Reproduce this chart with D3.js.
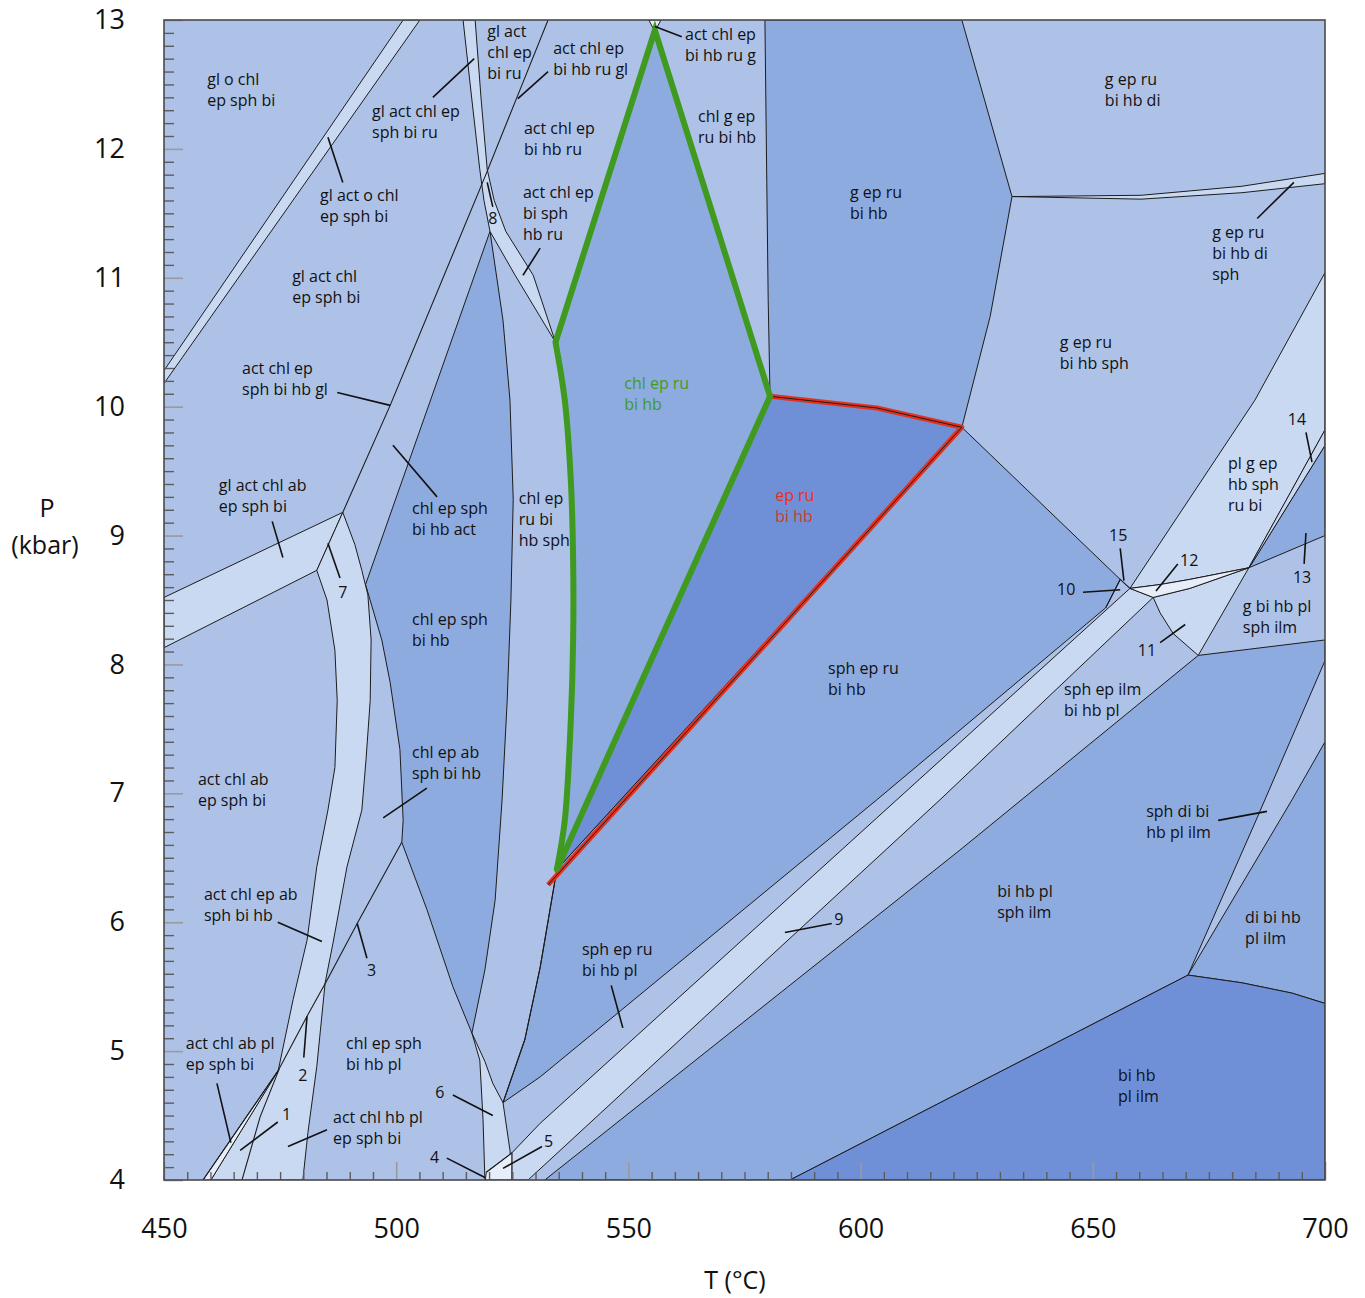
<!DOCTYPE html>
<html>
<head>
<meta charset="utf-8">
<script src="https://cdn.jsdelivr.net/npm/d3@7"></script>
<style>
  body { margin: 0; background: #fff; }
  svg text { font-family: "Open Sans", "Noto Sans", sans-serif; }
</style>
</head>
<body>
<svg id="chart" width="1365" height="1298"></svg>
<script>
// axis ranges and tick values
const tDomain = [450, 700];
const pDomain = [4, 13];
const tMajor = [450, 500, 550, 600, 650, 700];
const pMajor = [4, 5, 6, 7, 8, 9, 10, 11, 12, 13];

// field polygons, vertices as [T (°C), P (kbar)]
const bandGlActOChl = [[450,10.28],[501.5,13],[505.1,13],[450,10.18]];
const bandGlActChlEpSphBiRu = [[514.4,13],[516.3,12.38],[518.0,11.84],[518.9,11.60],[520.2,11.36],[525.6,11.02],[534.3,10.5],
  [529.5,11.02],[523.6,11.36],[521.1,11.60],[519.6,11.84],[518.3,12.38],[517.0,13]];
const bandGlActChlAb = [[450,8.52],[488.5,9.18],[482.9,8.73],[450,8.13]];
const band7 = [[488.5,9.18],[491.1,8.93],[492.6,8.73],[493.9,8.54],[494.6,8.19],[494.4,7.72],[493.5,7.26],[492.6,6.87],
  [489.4,6.43],[486.4,5.84],[484.7,5.53],[482.9,4.88],[481.0,4.37],[479.9,4],[460.1,4],[474.6,4.85],[477.8,5.40],
  [480.8,5.86],[482.9,6.43],[485.3,6.87],[486.8,7.20],[487.3,7.72],[486.8,8.11],[485.1,8.50],[482.9,8.73]];
const strip1 = [[474.6,4.85],[458.4,4],[460.1,4]];
const fieldChlEpSphBiHb = [[520.2,11.36],[493.4,8.62],[496.9,8.19],[498.7,7.86],[500.8,7.34],[501.5,6.79],[501.2,6.62],
  [506.6,6.10],[512.2,5.50],[516.3,5.14],[519.1,5.63],[521.3,6.17],[522.8,6.95],[523.9,7.72],[524.7,8.50],[525.2,9.28],
  [524.5,10.05],[523.0,10.67]];
const band6 = [[516.3,5.14],[518.0,4.93],[518.7,4.47],[519.1,4],[524.9,4],[524.5,4.23],[523.0,4.60],[520.8,4.75],[519.1,4.92]];
const field5 = [[519.4,4.06],[524.9,4.21],[524.9,4],[519.2,4]];
const greenStraight = [[534.3,10.5],[555.7,12.92],[580.5,10.08],[534.6,6.41]];
const greenCurve = [[534.6,6.41],[536.3,6.79],[537.6,7.57],[538.1,8.19],[538.1,8.81],[537.6,9.43],[536.3,10.05],[534.3,10.5]];
const fieldChlEpRuBiHb = greenStraight.concat(greenCurve.slice(1, -1));
const fieldEpRuBiHb = [[580.5,10.08],[603.5,9.99],[621.8,9.84],[534.6,6.41]];
const fieldGEpRuBiHb = [[579.4,13],[621.8,13],[632.6,11.63],[627.9,10.70],[621.8,9.84],[603.5,9.99],
  [580.5,10.08],[580.1,10.83],[579.8,11.74]];
const fieldSphEpRuBiHb = [[534.6,6.41],[621.8,9.84],[655.9,8.66],[652.8,8.44],[603.5,6.95],[531.0,4.80],[523.0,4.60],
  [527.7,5.09],[531.0,5.65]];
const band9 = [[524.9,4.21],[531.0,4.44],[607.8,6.95],[658.0,8.59],[663.0,8.52],[617.1,6.95],[528.4,4],[524.9,4]];
const fieldBiHbPlSphIlm = [[532.0,4],[621.4,6.56],[672.7,8.07],[700,8.19],[700,8.03],[684.9,6.77],[670.5,5.59],[584.8,4]];
const fieldDiBiHbPlIlm = [[670.5,5.59],[692.9,6.95],[700,7.40],[700,5.37],[692.9,5.45],[682.1,5.53]];
const fieldBiHbPlIlm = [[584.8,4],[670.5,5.59],[682.1,5.53],[692.9,5.45],[700,5.37],[700,4]];
const bandPlGEp = [[658.0,8.59],[684.9,10.05],[700,11.04],[700,9.82],[691.6,9.27],[683.6,8.75],[670.9,8.66],[664.5,8.62]];
const crescent12 = [[658.0,8.59],[664.5,8.62],[670.9,8.66],[683.6,8.75],[670.9,8.59],[663.0,8.52]];
const field11 = [[663.0,8.52],[670.9,8.59],[683.6,8.75],[672.7,8.07],[667.3,8.24],[664.5,8.40]];
const sliver14 = [[683.6,8.75],[700,9.82],[700,9.70],[684.2,8.78]];
const field13 = [[684.2,8.78],[700,9.70],[700,9.00],[683.6,8.75]];
const sliverDi = [[632.6,11.63],[660.4,11.64],[682.1,11.71],[700,11.81],[700,11.73],[682.1,11.66],[660.4,11.61]];
const apexTri = [[554.4,13],[557.0,13],[555.7,12.91]];

// single reaction lines
const lineL1 = [[532.7,13],[526.0,12.40],[519.3,11.80],[498.7,10.01],[488.5,9.18]];
const line3 = [[501.2,6.62],[491.6,5.99],[485.1,5.55],[480.8,5.27],[474.6,4.85],[458.4,4]];
const band7Lower = [[474.8,4.86],[470.7,4.49],[466.8,4]];
const greenTail = [[534.6,6.41],[531.0,5.65],[527.7,5.09],[523.0,4.60]];
const d2Cross = [[519.4,4.06],[524.9,4.21]];
const field10 = [[652.8,8.44],[655.9,8.66],[658.0,8.59]];
const redEdge = [[580.5,10.08],[603.5,9.99],[621.8,9.84],[532.7,6.29]];

const fields = [
  { pts: fieldChlEpSphBiHb, tone: 'medium' },
  { pts: fieldChlEpRuBiHb, tone: 'medium' },
  { pts: fieldGEpRuBiHb, tone: 'medium' },
  { pts: fieldSphEpRuBiHb, tone: 'medium' },
  { pts: fieldBiHbPlSphIlm, tone: 'medium' },
  { pts: fieldDiBiHbPlIlm, tone: 'medium' },
  { pts: field13, tone: 'medium' },
  { pts: fieldEpRuBiHb, tone: 'dark' },
  { pts: fieldBiHbPlIlm, tone: 'dark' },
  { pts: bandGlActOChl, tone: 'lightest' },
  { pts: bandGlActChlEpSphBiRu, tone: 'lightest' },
  { pts: bandGlActChlAb, tone: 'lightest' },
  { pts: band7, tone: 'lightest' },
  { pts: band6, tone: 'lightest' },
  { pts: band9, tone: 'lightest' },
  { pts: bandPlGEp, tone: 'lightest' },
  { pts: field11, tone: 'lightest' },
  { pts: sliver14, tone: 'lightest' },
  { pts: sliverDi, tone: 'lightest' },
  { pts: strip1, tone: 'white' },
  { pts: field5, tone: 'white' },
  { pts: crescent12, tone: 'white' },
  { pts: apexTri, tone: 'white' }
];
const lines = [lineL1, line3, band7Lower, greenTail, d2Cross, field10];

// field labels: [T, P, lines, colour]
const labels = [
  [459.3,12.54,'gl o chl|ep sph bi'], [494.8,12.29,'gl act chl ep|sph bi ru'], [519.6,12.91,'gl act|chl ep|bi ru'],
  [533.8,12.78,'act chl ep|bi hb ru gl'], [562.2,12.89,'act chl ep|bi hb ru g'], [483.6,11.64,'gl act o chl|ep sph bi'],
  [527.5,12.16,'act chl ep|bi hb ru'], [527.3,11.66,'act chl ep|bi sph|hb ru'], [519.8,11.46,'8'],
  [565.0,12.25,'chl g ep|ru bi hb'], [597.7,11.66,'g ep ru|bi hb'], [652.6,12.54,'g ep ru|bi hb di'],
  [675.7,11.35,'g ep ru|bi hb di|sph'], [477.6,11.01,'gl act chl|ep sph bi'], [642.9,10.50,'g ep ru|bi hb sph'],
  [466.8,10.30,'act chl ep|sph bi hb gl'], [549.1,10.18,'chl ep ru|bi hb','green'], [692.0,9.90,'14'],
  [581.6,9.31,'ep ru|bi hb','red'], [679.1,9.56,'pl g ep|hb sph|ru bi'], [461.8,9.39,'gl act chl ab|ep sph bi'],
  [503.4,9.21,'chl ep sph|bi hb act'], [526.4,9.29,'chl ep|ru bi|hb sph'], [653.5,9.00,'15'], [668.8,8.81,'12'],
  [487.5,8.56,'7'], [642.3,8.58,'10'], [693.1,8.68,'13'], [682.3,8.45,'g bi hb pl|sph ilm'], [503.4,8.35,'chl ep sph|bi hb'],
  [659.7,8.11,'11'], [593.0,7.97,'sph ep ru|bi hb'], [643.8,7.81,'sph ep ilm|bi hb pl'], [503.4,7.32,'chl ep ab|sph bi hb'],
  [457.3,7.11,'act chl ab|ep sph bi'], [661.5,6.86,'sph di bi|hb pl ilm'], [458.6,6.22,'act chl ep ab|sph bi hb'],
  [629.4,6.24,'bi hb pl|sph ilm'], [682.8,6.04,'di bi hb|pl ilm'], [594.3,6.02,'9'], [540.0,5.79,'sph ep ru|bi hb pl'],
  [493.7,5.63,'3'], [454.7,5.06,'act chl ab pl|ep sph bi'], [489.2,5.06,'chl ep sph|bi hb pl'], [478.9,4.81,'2'],
  [508.4,4.68,'6'], [655.4,4.81,'bi hb|pl ilm'], [475.4,4.51,'1'], [486.4,4.49,'act chl hb pl|ep sph bi'],
  [507.3,4.18,'4'], [531.8,4.30,'5']
];

// leader lines from labels to narrow fields
const leaders = [
  [[507.9,12.40],[516.8,12.70]], [[532.7,12.60],[526.2,12.39]], [[555.7,12.95],[561.5,12.87]],
  [[485.3,12.09],[488.5,11.74]], [[519.6,11.74],[520.8,11.55]], [[527.3,11.02],[531.0,11.23]],
  [[685.4,11.46],[693.3,11.74]], [[487.3,10.11],[498.7,10.01]], [[695.9,9.80],[697.2,9.57]],
  [[499.3,9.70],[508.8,9.30]], [[473.3,9.11],[475.6,8.83]], [[485.3,8.94],[487.9,8.67]],
  [[655.9,8.90],[656.7,8.65]], [[647.9,8.56],[655.9,8.58]], [[663.6,8.57],[668.3,8.78]],
  [[695.9,9.02],[695.5,8.78]], [[664.5,8.17],[669.9,8.31]], [[497.2,6.81],[506.6,7.04]],
  [[677.0,6.79],[687.5,6.86]], [[474.5,6.00],[484.0,5.85]], [[491.6,5.99],[493.7,5.72]],
  [[583.7,5.92],[593.8,5.99]], [[546.3,5.51],[548.8,5.18]], [[480.8,5.27],[480.1,4.95]],
  [[461.4,4.75],[464.4,4.29]], [[466.4,4.23],[474.5,4.45]], [[476.7,4.26],[485.1,4.39]],
  [[512.2,4.66],[520.8,4.50]], [[510.9,4.17],[519.1,4.02]], [[523.0,4.09],[531.4,4.26]]
];

const tones = { light: '#aec2e8', medium: '#8eabdf', dark: '#6f90d6', lightest: '#cad9f2', white: '#e8eef9' };
const textColors = { green: '#3f9a1f', red: '#e2321f' };

const x = d3.scaleLinear().domain(tDomain).range([164, 1325]);
const y = d3.scaleLinear().domain(pDomain).range([1180, 20]);

const svg = d3.select('#chart');
const closed = d3.line().x(d => x(d[0])).y(d => y(d[1])).curve(d3.curveLinearClosed);
const open = d3.line().x(d => x(d[0])).y(d => y(d[1]));
const smooth = d3.line().x(d => x(d[0])).y(d => y(d[1])).curve(d3.curveCatmullRom);

svg.append('clipPath').attr('id', 'plotClip').append('rect')
  .attr('x', x(450)).attr('y', y(13)).attr('width', x(700) - x(450)).attr('height', y(4) - y(13));

const plot = svg.append('g').attr('clip-path', 'url(#plotClip)');
plot.append('rect')
  .attr('x', x(450)).attr('y', y(13)).attr('width', x(700) - x(450)).attr('height', y(4) - y(13))
  .attr('fill', tones.light);

plot.selectAll('path.field').data(fields).join('path')
  .attr('class', 'field')
  .attr('d', d => closed(d.pts))
  .attr('fill', d => tones[d.tone])
  .attr('stroke', '#1c1c1c').attr('stroke-width', 1).attr('stroke-linejoin', 'round');

plot.selectAll('path.reaction').data(lines).join('path')
  .attr('class', 'reaction')
  .attr('d', open).attr('fill', 'none')
  .attr('stroke', '#1c1c1c').attr('stroke-width', 1.1);

// highlighted fields
plot.append('path').attr('d', open(redEdge)).attr('fill', 'none')
  .attr('stroke', '#e2321f').attr('stroke-width', 5).attr('stroke-linejoin', 'round');
plot.append('path').attr('d', open(redEdge)).attr('fill', 'none')
  .attr('stroke', '#1c1c1c').attr('stroke-width', 1);
plot.append('path').attr('d', open(greenStraight)).attr('fill', 'none')
  .attr('stroke', '#3f9a1f').attr('stroke-width', 6).attr('stroke-linejoin', 'miter');
plot.append('path').attr('d', smooth(greenCurve)).attr('fill', 'none')
  .attr('stroke', '#3f9a1f').attr('stroke-width', 6).attr('stroke-linecap', 'round');

// leaders
svg.append('g').selectAll('line').data(leaders).join('line')
  .attr('x1', d => x(d[0][0])).attr('y1', d => y(d[0][1]))
  .attr('x2', d => x(d[1][0])).attr('y2', d => y(d[1][1]))
  .attr('stroke', '#111').attr('stroke-width', 1.6);

// field labels
const labelG = svg.append('g').attr('font-size', 16);
labels.forEach(([t, p, text, c]) => {
  const el = labelG.append('text').attr('fill', c ? textColors[c] : '#111');
  text.split('|').forEach((s, i) => {
    el.append('tspan').attr('x', x(t)).attr('y', y(p) + i * 21).attr('dy', '0.36em').text(s);
  });
});

// axes with inward ticks
const pMinor = d3.range(40, 131).map(v => v / 10).filter(v => !Number.isInteger(v));
const tMinor = d3.range(450, 701, 5).filter(v => v % 50 !== 0);

const left = svg.append('g').attr('transform', `translate(${x(450)},0)`);
left.append('g').call(d3.axisLeft(y).tickValues(pMinor).tickSize(-10).tickFormat(''))
  .call(g => g.select('.domain').remove())
  .call(g => g.selectAll('line').attr('stroke', '#5d5d5d').attr('stroke-width', 1.4));
left.append('g').call(d3.axisLeft(y).tickValues(pMajor).tickSize(-19).tickPadding(39).tickFormat(d3.format('d')))
  .call(g => g.select('.domain').remove())
  .call(g => g.selectAll('line').attr('stroke', '#9a9a9a').attr('stroke-width', 1.6))
  .call(g => g.selectAll('text').attr('font-size', 27).attr('fill', '#111')
    .attr('font-family', '"Open Sans", sans-serif'));

const bottom = svg.append('g').attr('transform', `translate(0,${y(4)})`);
bottom.append('g').call(d3.axisBottom(x).tickValues(tMinor).tickSize(-8).tickFormat(''))
  .call(g => g.select('.domain').remove())
  .call(g => g.selectAll('line').attr('stroke', '#5d5d5d').attr('stroke-width', 1.4));
bottom.append('g').call(d3.axisBottom(x).tickValues(tMajor).tickSize(-18).tickFormat(d3.format('d')))
  .call(g => g.select('.domain').remove())
  .call(g => g.selectAll('line').attr('stroke', '#9a9a9a').attr('stroke-width', 1.6))
  .call(g => g.selectAll('text').attr('y', 48).attr('dy', '0.36em').attr('font-size', 27).attr('fill', '#111')
    .attr('font-family', '"Open Sans", sans-serif'));

// frame
svg.append('rect')
  .attr('x', x(450)).attr('y', y(13)).attr('width', x(700) - x(450)).attr('height', y(4) - y(13))
  .attr('fill', 'none').attr('stroke', '#4a4a4a').attr('stroke-width', 1.6);

// axis titles
const titles = svg.append('g').attr('font-size', 25).attr('fill', '#111').attr('text-anchor', 'middle');
titles.append('text').attr('x', 47).attr('y', 508).attr('dy', '0.36em').text('P');
titles.append('text').attr('x', 45).attr('y', 545).attr('dy', '0.36em').text('(kbar)');
titles.append('text').attr('x', 735).attr('y', 1280).attr('dy', '0.36em').text('T (°C)');
</script>
</body>
</html>
